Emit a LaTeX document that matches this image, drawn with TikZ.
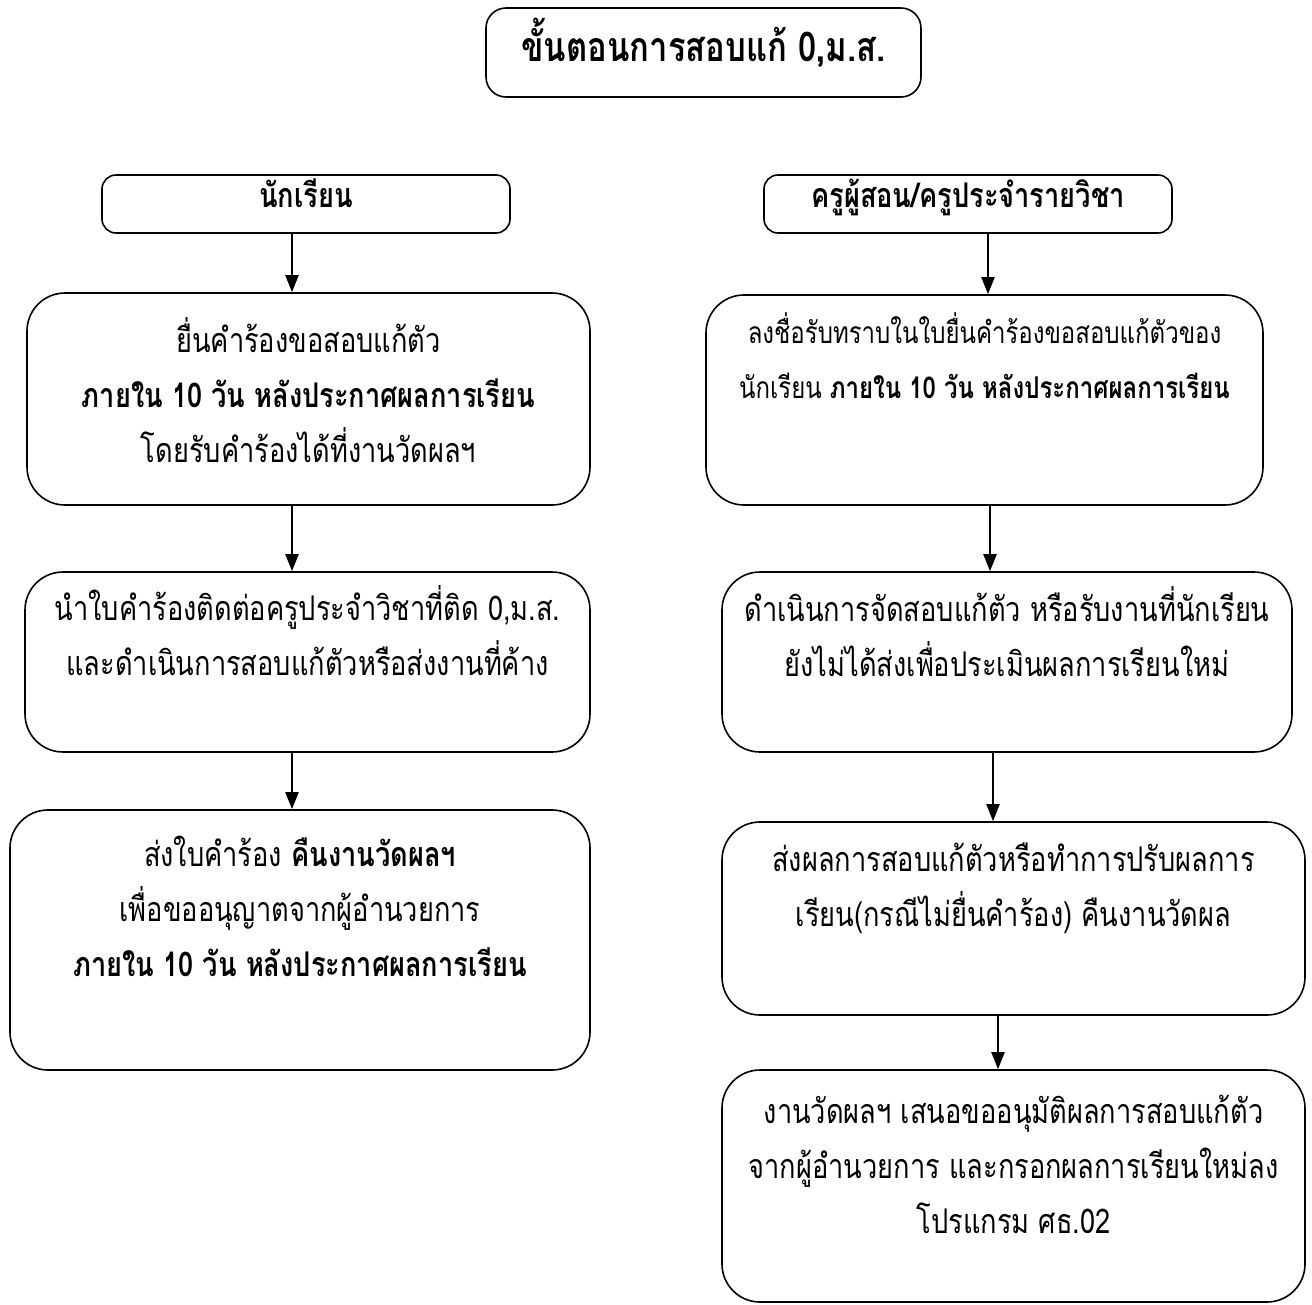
\documentclass[tikz,border=0pt]{standalone}
\usepackage{fontspec}
\newfontfamily\thaifont[Script=Thai, FakeStretch=0.8]{Loma}
\usetikzlibrary{arrows,arrows.meta,positioning}

\begin{document}
\begin{tikzpicture}[x=1pt, y=-1pt, >={Triangle[length=17pt,width=13pt]}, line width=1.6pt]
\tikzstyle{box}=[draw, rounded corners=38pt, inner sep=0pt]
\tikzstyle{headbox}=[draw, rounded corners=14pt, inner sep=0pt, minimum width=408pt, minimum height=58pt, text height=22pt, text depth=16pt, font=\thaifont\bfseries\fontsize{34}{40}\selectfont]
\tikzstyle{txt}=[align=center, inner sep=0pt, font=\thaifont\fontsize{34}{55}\selectfont, execute at begin node=\strut]
\tikzstyle{link}=[->, line width=2pt]
\useasboundingbox (0,0) rectangle (1312,1304);

% headings
\node[headbox, rounded corners=20pt, minimum width=435pt, minimum height=89pt, text height=30pt, text depth=12pt, font=\thaifont\bfseries\fontsize{41}{48}\selectfont] (title) at (703.5,52.5) {ขั้นตอนการสอบแก้ 0,ม.ส.};
\node[headbox] (student) at (306,204) {นักเรียน};
\node[headbox] (teacher) at (968,204) {ครูผู้สอน/ครูประจำรายวิชา};

% left column
\node[box, minimum width=563pt, minimum height=212pt] (s1) at (308.5,399) {};
\node[box, minimum width=565pt, minimum height=180pt] (s2) at (307.5,662) {};
\node[box, minimum width=580pt, minimum height=260pt] (s3) at (300,940) {};
\node[txt, below=25pt of s1.north] (s1t) {ยื่นคำร้องขอสอบแก้ตัว\\ \textbf{ภายใน 10 วัน หลังประกาศผลการเรียน}\\ โดยรับคำร้องได้ที่งานวัดผลฯ};
\node[txt, below=14pt of s2.north] (s2t) {นำใบคำร้องติดต่อครูประจำวิชาที่ติด 0,ม.ส.\\ และดำเนินการสอบแก้ตัวหรือส่งงานที่ค้าง};
\node[txt, below=26pt of s3.north] (s3t) {ส่งใบคำร้อง \textbf{คืนงานวัดผลฯ}\\ เพื่อขออนุญาตจากผู้อำนวยการ\\ \textbf{ภายใน 10 วัน หลังประกาศผลการเรียน}};

% right column
\node[box, minimum width=557pt, minimum height=210pt] (t1) at (984.5,400) {};
\node[box, minimum width=570pt, minimum height=180pt] (t2) at (1007,662) {};
\node[box, minimum width=583pt, minimum height=193pt] (t3) at (1013.5,918.5) {};
\node[box, minimum width=583pt, minimum height=232pt] (t4) at (1013.5,1186) {};
\node[txt, below=18pt of t1.north, font=\thaifont\fontsize{30}{55}\selectfont] (t1t) {ลงชื่อรับทราบในใบยื่นคำร้องขอสอบแก้ตัวของ\\ นักเรียน \textbf{ภายใน 10 วัน หลังประกาศผลการเรียน}};
\node[txt, below=15pt of t2.north] (t2t) {ดำเนินการจัดสอบแก้ตัว หรือรับงานที่นักเรียน\\ ยังไม่ได้ส่งเพื่อประเมินผลการเรียนใหม่};
\node[txt, below=21pt of t3.north] (t3t) {ส่งผลการสอบแก้ตัวหรือทำการปรับผลการ\\ เรียน(กรณีไม่ยื่นคำร้อง) คืนงานวัดผล};
\node[txt, below=25pt of t4.north] (t4t) {งานวัดผลฯ เสนอขออนุมัติผลการสอบแก้ตัว\\ จากผู้อำนวยการ และกรอกผลการเรียนใหม่ลง\\ โปรแกรม ศธ.02};

% arrows
\draw[link] ([xshift=-14pt]student.south) -- ([xshift=-14pt]student.south |- s1.north);
\draw[link] ([xshift=-16.5pt]s1.south) -- ([xshift=-16.5pt]s1.south |- s2.north);
\draw[link] ([xshift=-15.5pt]s2.south) -- ([xshift=-15.5pt]s2.south |- s3.north);
\draw[link] ([xshift=20pt]teacher.south) -- ([xshift=20pt]teacher.south |- t1.north);
\draw[link] ([xshift=5.5pt]t1.south) -- ([xshift=5.5pt]t1.south |- t2.north);
\draw[link] ([xshift=-14pt]t2.south) -- ([xshift=-14pt]t2.south |- t3.north);
\draw[link] ([xshift=-15.5pt]t3.south) -- ([xshift=-15.5pt]t3.south |- t4.north);
\end{tikzpicture}
\end{document}
